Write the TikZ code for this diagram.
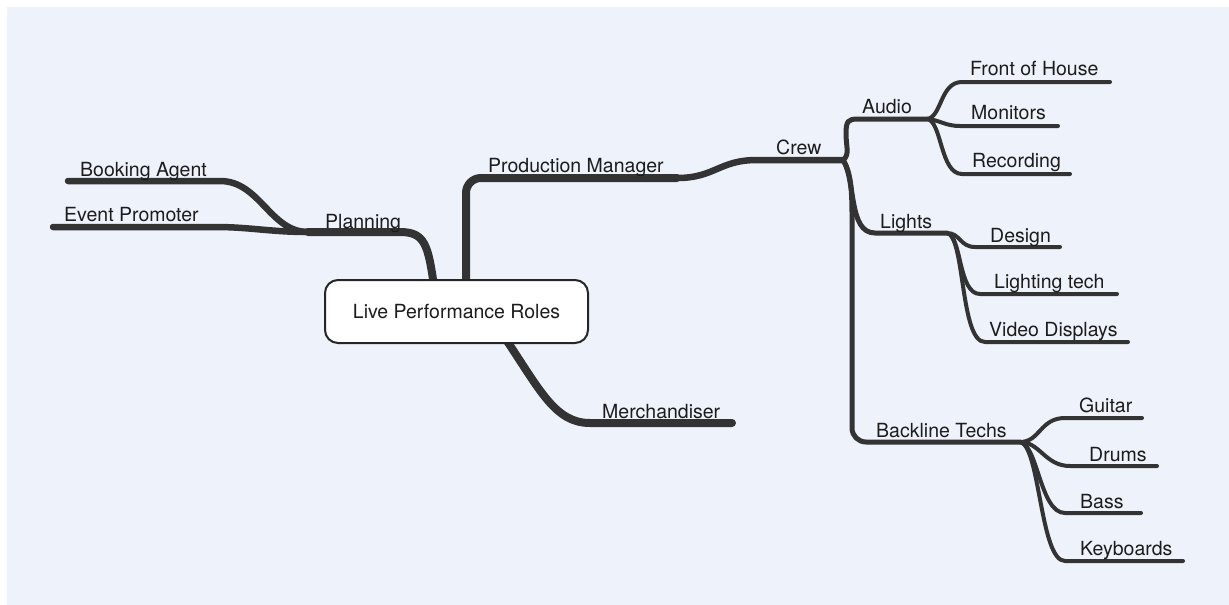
\documentclass[tikz,border=0pt]{standalone}
\usepackage{fontspec}
\setmainfont{TeX Gyre Heros}
\definecolor{panel}{RGB}{238,242,250}
\definecolor{branch}{RGB}{51,51,51}
\definecolor{ink}{RGB}{28,28,28}
\begin{document}
\begin{tikzpicture}[x=1pt,y=-1pt,
  line cap=round, line join=round,
  trunk/.style={draw=branch, line width=8pt},
  limb/.style={draw=branch, line width=6.5pt},
  twig/.style={draw=branch, line width=5pt},
  leaf/.style={draw=branch, line width=4pt},
  lbl/.style={anchor=base west, inner sep=0pt, text=ink, font=\fontsize{19.5}{23}\selectfont},
  rootbox/.style={draw=black!85, line width=2pt, fill=white, rounded corners=13pt,
    minimum width=263pt, minimum height=63pt, inner sep=0pt, text=ink,
    font=\fontsize{19.5}{23}\selectfont}]

% page and panel
\useasboundingbox (0,0) rectangle (1229,605);
\fill[white] (0,0) rectangle (1229,605);
\fill[panel] (7,7) rectangle (1229,605);

% branch points
\coordinate (rootP) at (434,286);
\coordinate (rootM) at (466,286);
\coordinate (rootX) at (505,338);
\coordinate (planK) at (400,232); \coordinate (planJ) at (308,232);
\coordinate (bookK) at (220,181); \coordinate (bookE) at (68,181);
\coordinate (evK)   at (215,227); \coordinate (evE)   at (53,227);
\coordinate (pmJ)   at (677,178);
\coordinate (crewK) at (757,160); \coordinate (crewJ) at (843,160);
\coordinate (merK)  at (590,423); \coordinate (merE)  at (732,423);
\coordinate (audV)  at (846,134);
\coordinate (audK)  at (858,119); \coordinate (audJ)  at (927,119);
\coordinate (ligK)  at (875,233); \coordinate (ligJ)  at (947,233);
\coordinate (bkV)   at (852,240); \coordinate (bkJ)   at (1020,442);
\coordinate (fohK)  at (962,82);  \coordinate (fohE)  at (1110,82);
\coordinate (monK)  at (960,126); \coordinate (monE)  at (1058,126);
\coordinate (recK)  at (962,174); \coordinate (recE)  at (1070,174);
\coordinate (desK)  at (975,247); \coordinate (desE)  at (1060,247);
\coordinate (ltK)   at (980,294); \coordinate (ltE)   at (1117,294);
\coordinate (vdK)   at (985,342); \coordinate (vdE)   at (1128,342);
\coordinate (guiK)  at (1065,418); \coordinate (guiE) at (1142,418);
\coordinate (druK)  at (1070,466); \coordinate (druE) at (1157,466);
\coordinate (basK)  at (1065,513); \coordinate (basE) at (1141,513);
\coordinate (keyK)  at (1065,561); \coordinate (keyE) at (1183,561);

% main branches
\draw[trunk] (rootP) .. controls +(-6,-41) and +(25,0) .. (planK) -- (planJ);
\draw[trunk, rounded corners=15pt] (rootM) |- (pmJ);
\draw[trunk] (rootX) .. controls +(35,52) and +(-35,0) .. (merK) -- (merE);
\draw[limb] (pmJ) .. controls +(38,0) and +(-38,0) .. (crewK) -- (crewJ);

% planning
\draw[limb] (planJ) .. controls +(-38,0) and +(40,0) .. (bookK) -- (bookE);
\draw[limb] (planJ) .. controls +(-38,0) and +(35,0) .. (evK) -- (evE);

% crew
\draw[twig] (crewJ) .. controls +(7,-5) and +(0,12) .. (audV)
  .. controls +(0,-13) and +(-10,0) .. (audK) -- (audJ);
\draw[twig] (crewJ) .. controls +(13,20) and +(-27,0) .. (ligK) -- (ligJ);
\draw[twig] (crewJ) .. controls +(10,15) and +(0,-40) .. (bkV)
  [rounded corners=14pt] |- (bkJ);

% audio
\draw[leaf] (audJ) .. controls +(15,-2) and +(-22,0) .. (fohK) -- (fohE);
\draw[leaf] (audJ) .. controls +(13,1) and +(-15,0) .. (monK) -- (monE);
\draw[leaf] (audJ) .. controls +(15,2) and +(-22,0) .. (recK) -- (recE);

% lights
\draw[leaf] (ligJ) .. controls +(13,0) and +(-15,0) .. (desK) -- (desE);
\draw[leaf] (ligJ) .. controls +(15,3) and +(-22,0) .. (ltK) -- (ltE);
\draw[leaf] (ligJ) .. controls +(18,3) and +(-25,0) .. (vdK) -- (vdE);

% backline
\draw[leaf] (bkJ) .. controls +(20,0) and +(-25,0) .. (guiK) -- (guiE);
\draw[leaf] (bkJ) .. controls +(20,0) and +(-25,0) .. (druK) -- (druE);
\draw[leaf] (bkJ) .. controls +(18,3) and +(-25,0) .. (basK) -- (basE);
\draw[leaf] (bkJ) .. controls +(20,3) and +(-25,0) .. (keyK) -- (keyE);

% central topic
\node[rootbox] (root) at (456.5,311.5) {Live Performance Roles};

% labels
\node[lbl] (planning) at (325,228) {Planning};
\node[lbl] (booking)  at (80,176)  {Booking Agent};
\node[lbl] (event)    at (64,221)  {Event Promoter};
\node[lbl] (pm)       at (488,172) {Production Manager};
\node[lbl] (merch)    at (602,418) {Merchandiser};
\node[lbl] (crew)     at (776,154) {Crew};
\node[lbl] (audio)    at (862,113) {Audio};
\node[lbl] (foh)      at (970,75)  {Front of House};
\node[lbl] (mon)      at (971,119) {Monitors};
\node[lbl] (rec)      at (972,167) {Recording};
\node[lbl] (lights)   at (880,228) {Lights};
\node[lbl] (design)   at (990,242) {Design};
\node[lbl] (ltech)    at (994,288) {Lighting tech};
\node[lbl] (video)    at (989,336) {Video Displays};
\node[lbl] (backline) at (876,437) {Backline Techs};
\node[lbl] (guitar)   at (1079,412) {Guitar};
\node[lbl] (drums)    at (1089,461) {Drums};
\node[lbl] (bass)     at (1080,508) {Bass};
\node[lbl] (keys)     at (1080,555) {Keyboards};
\end{tikzpicture}
\end{document}
